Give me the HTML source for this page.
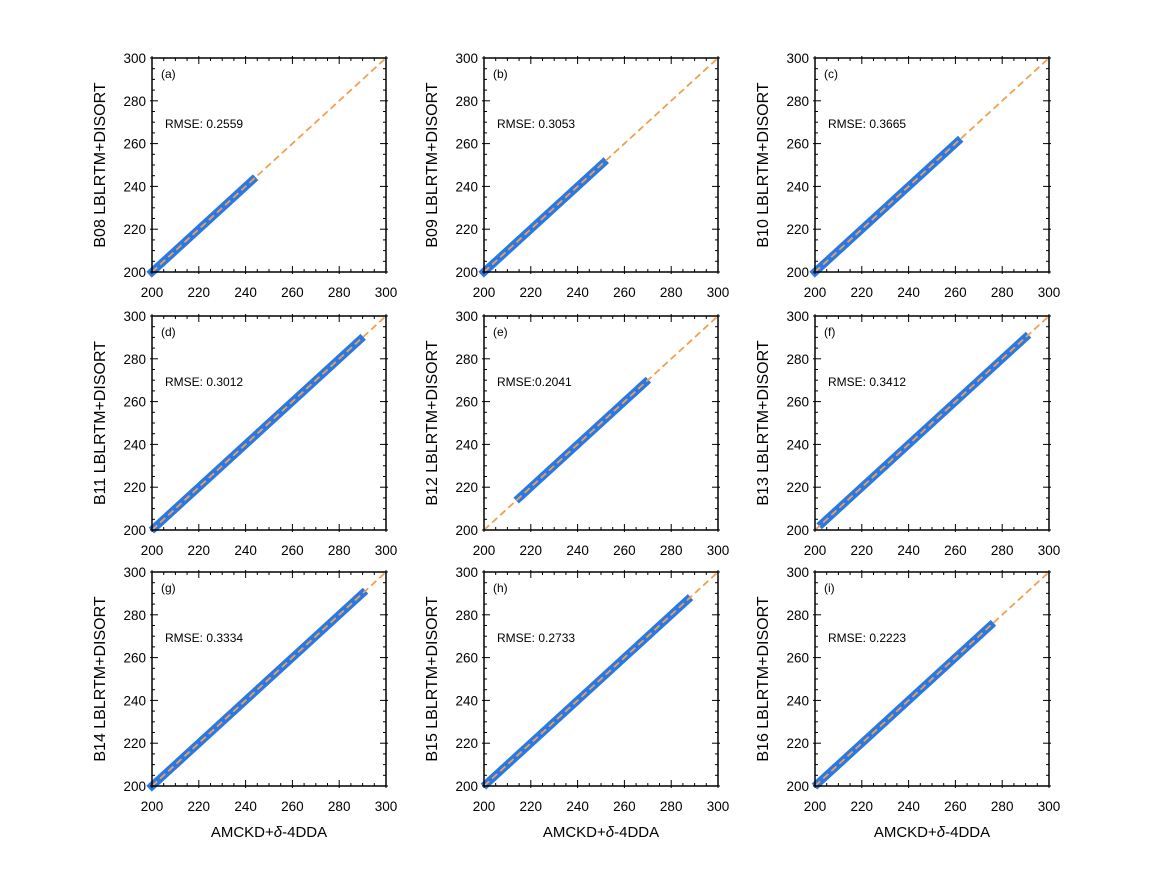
<!DOCTYPE html><html><head><meta charset="utf-8"><style>body{margin:0;background:#fff}svg{display:block}text{font-family:"Liberation Sans",sans-serif;fill:#000}</style></head><body>
<svg id="s" width="1152" height="891" xmlns="http://www.w3.org/2000/svg"></svg>
<script>
const s=document.getElementById('s');let h='';
const cols=[152,484,815],rows=[58,316,572],W=234,H=214;
const P=[['B08','a','0.2559',200,243],['B09','b','0.3053',200,251],['B10','c','0.3665',200,261],
['B11','d','0.3012',201,289],['B12','e','0.2041',215,269],['B13','f','0.3412',203,290],
['B14','g','0.3334',200,290],['B15','h','0.2733',201,287],['B16','i','0.2223',201,275]];
P.forEach((p,i)=>{const x0=cols[i%3],y0=rows[Math.floor(i/3)];
const X=v=>x0+(v-200)/100*W,Y=v=>y0+H-(v-200)/100*H;
h+=`<line x1="${X(p[3])}" y1="${Y(p[3])}" x2="${X(p[4])}" y2="${Y(p[4])}" stroke="#2a78e4" stroke-width="8" stroke-linecap="square"/>`;
h+=`<line x1="${X(200)}" y1="${Y(200)}" x2="${X(300)}" y2="${Y(300)}" stroke="#f0a050" stroke-width="1.8" stroke-dasharray="7,4"/>`;
h+=`<rect x="${x0}" y="${y0}" width="${W}" height="${H}" fill="none" stroke="#000" stroke-width="1.5"/>`;
for(let v=200;v<=300;v+=5){const maj=v%20==0,L=maj?6:3;const xx=X(v),yy=Y(v);
h+=`<line x1="${xx}" y1="${y0+H+(maj?2:0)}" x2="${xx}" y2="${y0+H-L}" stroke="#000"/><line x1="${xx}" y1="${y0-(maj?2:0)}" x2="${xx}" y2="${y0+L}" stroke="#000"/>`;
h+=`<line x1="${x0-(maj?2:0)}" y1="${yy}" x2="${x0+L}" y2="${yy}" stroke="#000"/><line x1="${x0+W+(maj?2:0)}" y1="${yy}" x2="${x0+W-L}" y2="${yy}" stroke="#000"/>`;
if(maj){h+=`<text x="${xx}" y="${y0+H+25}" font-size="13.5" text-anchor="middle">${v}</text><text x="${x0-6}" y="${yy+5}" font-size="13.5" text-anchor="end">${v}</text>`}}
h+=`<text x="${x0+9}" y="${y0+20}" font-size="12">(${p[1]})</text>`;
h+=`<text x="${x0+13}" y="${y0+70}" font-size="12">RMSE:${p[1]=='e'?'':' '}${p[2]}</text>`;
h+=`<text transform="translate(${x0-47},${y0+H/2}) rotate(-90)" font-size="16" text-anchor="middle">${p[0]} LBLRTM+DISORT</text>`;
if(i>=6)h+=`<text x="${x0+W/2}" y="837" font-size="15" text-anchor="middle">AMCKD+<tspan font-style="italic">δ</tspan>-4DDA</text>`;
});
s.innerHTML=h;
</script></body></html>
